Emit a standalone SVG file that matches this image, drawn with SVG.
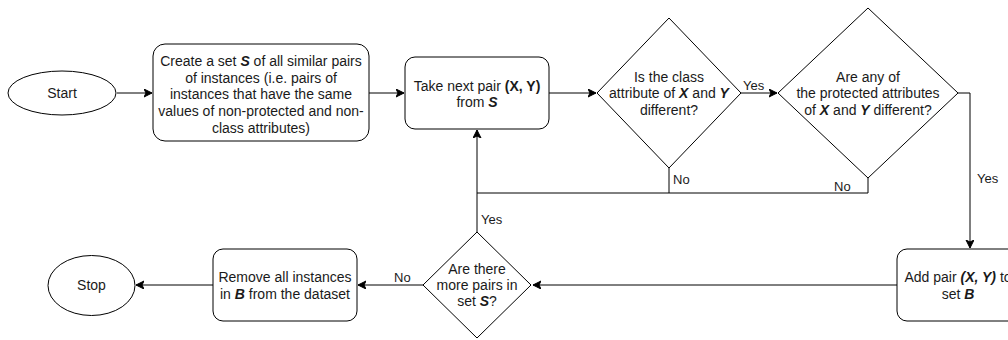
<svg xmlns="http://www.w3.org/2000/svg" width="1008" height="340" viewBox="0 0 1008 340">
  <style>
    .shape { fill: #ffffff; stroke: #000000; stroke-width: 1; }
    .edge { fill: none; stroke: #000000; stroke-width: 1; }
    text { font-family: "Liberation Sans", Arial, sans-serif; font-size: 14px; fill: #1a1a1a; }
    .lbl { font-size: 13px; }
    .c { text-anchor: middle; }
    .bi { font-weight: bold; font-style: italic; }
    .b { font-weight: bold; }
  </style>
  <defs>
    <marker id="arrow" markerWidth="10" markerHeight="10" refX="8" refY="4" orient="auto" markerUnits="userSpaceOnUse">
      <path d="M0,0 L8,4 L0,8 L2,4 Z" fill="#000000" stroke="#000000" stroke-width="1"/>
    </marker>
  </defs>

  <!-- connectors -->
  <g id="connectors">
    <line class="edge" x1="117" y1="93" x2="152" y2="93" marker-end="url(#arrow)"/>
    <line class="edge" x1="369" y1="93" x2="404" y2="93" marker-end="url(#arrow)"/>
    <line class="edge" x1="549" y1="93" x2="596" y2="93" marker-end="url(#arrow)"/>
    <line class="edge" x1="741" y1="93" x2="777" y2="93" marker-end="url(#arrow)"/>
    <text class="lbl" x="743" y="90">Yes</text>
    <!-- No branches rejoin and loop back -->
    <polyline class="edge" points="669,168 669,193 477,193"/>
    <polyline class="edge" points="868,178 868,193 669,193"/>
    <text class="lbl" x="673" y="184">No</text>
    <text class="lbl" x="834" y="191">No</text>
    <polyline class="edge" points="477,232 477,193 477,130" marker-end="url(#arrow)"/>
    <text class="lbl" x="481" y="224">Yes</text>
    <!-- Yes branch to set B -->
    <polyline class="edge" points="958,93 970,93 970,248" marker-end="url(#arrow)"/>
    <text class="lbl" x="977" y="183">Yes</text>
    <line class="edge" x1="897" y1="285" x2="533" y2="285" marker-end="url(#arrow)"/>
    <line class="edge" x1="423" y1="285" x2="358" y2="285" marker-end="url(#arrow)"/>
    <text class="lbl" x="394" y="282">No</text>
    <line class="edge" x1="213" y1="285" x2="136" y2="285" marker-end="url(#arrow)"/>
  </g>

  <g id="start">
    <ellipse class="shape" cx="62" cy="93" rx="54" ry="22"/>
    <text class="c" x="62" y="98">Start</text>
  </g>

  <g id="create-set">
    <rect class="shape" x="153" y="44" width="216" height="97" rx="12"/>
    <text class="c" x="261" y="66">Create a set <tspan class="bi">S</tspan> of all similar pairs</text>
    <text class="c" x="261" y="83">of instances (i.e. pairs of</text>
    <text class="c" x="261" y="99">instances that have the same</text>
    <text class="c" x="261" y="116">values of non-protected and non-</text>
    <text class="c" x="261" y="133">class attributes)</text>
  </g>

  <g id="take-pair">
    <rect class="shape" x="405" y="57" width="144" height="72" rx="10"/>
    <text class="c" x="477" y="91">Take next pair <tspan class="b">(X, Y)</tspan></text>
    <text class="c" x="477" y="107">from <tspan class="bi">S</tspan></text>
  </g>

  <g id="class-differs">
    <polygon class="shape" points="669,18 741,93 669,168 597,93"/>
    <text class="c" x="669" y="82">Is the class</text>
    <text class="c" x="669" y="98">attribute of <tspan class="bi">X</tspan> and <tspan class="bi">Y</tspan></text>
    <text class="c" x="669" y="115">different?</text>
  </g>

  <g id="protected-differs">
    <polygon class="shape" points="868,8 958,93 868,178 778,93"/>
    <text class="c" x="868" y="82">Are any of</text>
    <text class="c" x="868" y="98">the protected attributes</text>
    <text class="c" x="868" y="115">of <tspan class="bi">X</tspan> and <tspan class="bi">Y</tspan> different?</text>
  </g>

  <g id="add-to-b">
    <rect class="shape" x="897" y="249" width="146" height="72" rx="10"/>
    <text class="c" x="958" y="282">Add pair <tspan class="bi">(X, Y)</tspan> to</text>
    <text class="c" x="958" y="299">set <tspan class="bi">B</tspan></text>
  </g>

  <g id="more-pairs">
    <polygon class="shape" points="477,232 531,285 477,338 423,285"/>
    <text class="c" x="477" y="274">Are there</text>
    <text class="c" x="477" y="290">more pairs in</text>
    <text class="c" x="477" y="306">set <tspan class="bi">S</tspan>?</text>
  </g>

  <g id="remove-b">
    <rect class="shape" x="213" y="249" width="144" height="72" rx="10"/>
    <text class="c" x="285" y="282">Remove all instances</text>
    <text class="c" x="285" y="299">in <tspan class="bi">B</tspan> from the dataset</text>
  </g>

  <g id="stop">
    <ellipse class="shape" cx="91.5" cy="285.5" rx="43.5" ry="30"/>
    <text class="c" x="91.5" y="290">Stop</text>
  </g>
</svg>
